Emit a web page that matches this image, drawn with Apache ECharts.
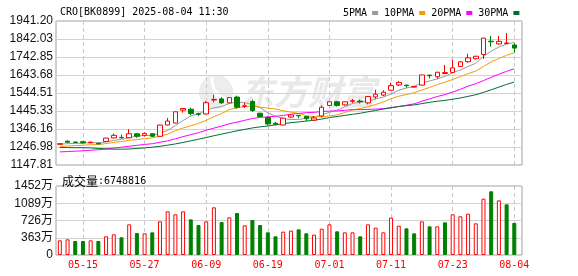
<!DOCTYPE html>
<html><head><meta charset="utf-8">
<script src="https://cdn.jsdelivr.net/npm/echarts@6/dist/echarts.min.js"></script>
<style>html,body{margin:0;padding:0;background:#fff}#c{width:578px;height:276px}</style>
</head><body><div id="c"></div>
<script>
const dates = ['05-12','05-13','05-14','05-15','05-16','05-19','05-20','05-21','05-22','05-23',
  '05-26','05-27','05-28','05-29','05-30','06-03','06-04','06-05','06-06','06-09',
  '06-10','06-11','06-12','06-13','06-16','06-17','06-18','06-19','06-20','06-23',
  '06-24','06-25','06-26','06-27','06-30','07-01','07-02','07-03','07-04','07-07',
  '07-08','07-09','07-10','07-11','07-14','07-15','07-16','07-17','07-18','07-21',
  '07-22','07-23','07-24','07-25','07-28','07-29','07-30','07-31','08-01','08-04'];
const open = [1262,1279,1274,1276,1270,1267,1277,1297,1300,1298, 1320,1311,1320,1306,1368,1379,1450,1455,1430,1429,
  1506,1512,1490,1522,1470,1498,1433,1409,1378,1368, 1412,1421,1415,1395,1418,1476,1496,1479,1499,1500,
  1490,1523,1533,1560,1589,1588,1577,1588,1643,1634, 1652,1658,1691,1717,1733,1757,1830,1815,1817,1809];
const close = [1265,1273,1272,1270,1274,1264,1296,1311,1298,1320, 1306,1322,1306,1368,1390,1441,1459,1431,1427,1491,
  1509,1490,1519,1466,1474,1448,1415,1374,1372,1406, 1424,1419,1403,1407,1466,1496,1476,1496,1502,1497,
  1525,1538,1549,1585,1603,1585,1581,1644,1640,1659, 1657,1683,1716,1738,1747,1847,1827,1829,1820,1792];
const low = [1261,1269,1268,1266,1268,1262,1275,1295,1293,1296, 1298,1305,1303,1304,1366,1377,1436,1422,1418,1427,
  1493,1486,1488,1458,1462,1440,1413,1366,1366,1366, 1406,1405,1390,1392,1411,1475,1470,1474,1490,1487,
  1482,1512,1527,1558,1582,1574,1574,1586,1624,1623, 1650,1656,1689,1711,1728,1732,1800,1812,1815,1767];
const high = [1266,1283,1277,1280,1276,1270,1298,1322,1315,1346, 1322,1328,1322,1369,1407,1443,1461,1464,1436,1500,
  1535,1522,1521,1530,1491,1508,1436,1416,1385,1408, 1425,1422,1416,1418,1476,1497,1501,1497,1512,1508,
  1526,1563,1560,1602,1610,1589,1582,1645,1646,1660, 1699,1728,1721,1760,1749,1848,1859,1859,1875,1818];
const volume = [3090000,3300000,2950000,2950000,3090000,2950000,3930000,4350000,3720000,6450000,
  4630000,4560000,4770000,7080000,9190000,8560000,9190000,7500000,6310000,7080000,
  10030000,6940000,7930000,8840000,6240000,7360000,6310000,4770000,3930000,4910000,
  5120000,5400000,4560000,4280000,5540000,6450000,4980000,4770000,4770000,3930000,
  6450000,5750000,4770000,7860000,6170000,5610000,4560000,7080000,6030000,6030000,
  6870000,8560000,8140000,8700000,6660000,11850000,13400000,11500000,10660000,6748816];
const ma5 = [1263,1265,1267,1268,1271,1271,1275,1283,1289,1298, 1306,1311,1310,1324,1338,1365,1393,1418,1430,1450,
  1463,1470,1487,1495,1492,1479,1464,1435,1417,1403, 1398,1399,1405,1412,1424,1438,1450,1468,1487,1493,
  1499,1512,1522,1539,1560,1572,1581,1600,1611,1622, 1636,1657,1671,1691,1708,1746,1775,1798,1814,1823];
const ma10 = [1250,1252,1255,1257,1259,1261,1266,1272,1277,1284, 1288,1293,1297,1307,1318,1336,1352,1364,1377,1394,
  1414,1431,1453,1462,1471,1471,1467,1461,1456,1447, 1439,1432,1420,1414,1413,1418,1424,1437,1450,1459,
  1469,1481,1495,1513,1527,1536,1546,1561,1575,1591, 1604,1619,1635,1651,1665,1691,1716,1734,1752,1766];
const ma20 = [1220,1222,1224,1226,1229,1232,1236,1241,1246,1251, 1256,1261,1265,1273,1281,1292,1304,1315,1326,1339,
  1351,1362,1375,1384,1394,1404,1410,1413,1416,1421, 1427,1432,1436,1438,1442,1445,1446,1449,1453,1453,
  1454,1456,1458,1464,1470,1477,1485,1499,1512,1525, 1536,1550,1565,1582,1596,1613,1631,1648,1664,1678];
const ma30 = [1244,1244,1243,1243,1242,1239,1236,1235,1235,1236, 1239,1242,1246,1251,1257,1264,1272,1281,1290,1299,
  1309,1318,1327,1336,1344,1352,1358,1363,1369,1375, 1381,1385,1390,1394,1401,1409,1415,1421,1427,1433,
  1441,1448,1456,1463,1470,1475,1479,1486,1493,1499, 1504,1510,1517,1526,1535,1548,1562,1577,1592,1605];
const priceTicks = [1147.81,1246.98,1346.16,1445.33,1544.51,1643.68,1742.85,1842.03,1941.20];
const volumeTicks = [0,3630000,7260000,10890000,14520000];
const dateTicks = ['05-15','05-27','06-09','06-19','07-01','07-11','07-23','08-04'];
const maNames = ['5PMA','10PMA','20PMA','30PMA'];
const titleText = 'CRO[BK0899] 2025-08-04 11:30';
const watermarkText = '东方财富';

const UP = '#ff0000', DOWN = '#008000';
const maColors = ['#9a9a9a','#f0a000','#ff00ff','#006e34'];
const mono = '"DejaVu Sans Mono", monospace';
const sans = '"Liberation Sans", Arial, "Noto Sans CJK SC"';
const N = dates.length;
const idx = dates.map((d, i) => i);
const xTickIdx = dateTicks.map(d => dates.indexOf(d));
const maData = [ma5, ma10, ma20, ma30];

function xAxis(gridIndex, showLabel) {
  return {
    type: 'value', gridIndex, min: -0.5, max: N,
    axisLine: {show: false},
    axisTick: {show: false, customValues: xTickIdx},
    axisLabel: {show: showLabel, customValues: xTickIdx, formatter: v => dates[v] || '',
      color: '#ff0000', fontFamily: mono, fontSize: 10, margin: 5},
    splitLine: {show: true, lineStyle: {color: '#c8c8c8', type: [4, 3], width: 1}}
  };
}

const chart = echarts.init(document.getElementById('c'), null, {renderer: 'canvas'});
chart.setOption({
  animation: false,
  backgroundColor: '#ffffff',
  title: [
    {text: titleText, left: 55, top: 2, textStyle: {fontFamily: mono, fontSize: 10, fontWeight: 'normal', color: '#000'}},
    {text: '{a|成交量}{b|:' + volume[N - 1] + '}', left: 57, top: 170,
      textStyle: {fontWeight: 'normal', rich: {a: {fontFamily: '"Noto Sans CJK SC"', fontSize: 12, fontWeight: 'normal', color: '#000'},
                         b: {fontFamily: mono, fontSize: 10, fontWeight: 'normal', color: '#000'}}}}
  ],
  legend: {
    data: maNames, left: 338, top: 3, icon: 'rect', itemWidth: 6, itemHeight: 4, itemGap: 6, align: 'right',
    textStyle: {fontFamily: mono, fontSize: 10, color: '#000', padding: 0}
  },
  graphic: [
    {type: 'circle', z: -10, silent: true, shape: {cx: 216, cy: 92, r: 17}, style: {fill: '#ededed'}},
    {type: 'arc', z: -9, silent: true, shape: {cx: 232, cy: 80, r: 20, startAngle: 1.9, endAngle: 3.3}, style: {stroke: '#ffffff', lineWidth: 3, fill: null}},
    {type: 'arc', z: -9, silent: true, shape: {cx: 236, cy: 86, r: 22, startAngle: 2.0, endAngle: 3.2}, style: {stroke: '#ffffff', lineWidth: 2, fill: null}},
    {type: 'text', left: 240, top: 75, z: -10, silent: true,
      style: {text: watermarkText, font: 'italic bold 34px "Noto Sans CJK SC"', fill: '#e9e9e9'}}
  ],
  grid: [
    {left: 56, right: 56, top: 21, height: 144, show: true, borderColor: '#a0a0a0', borderWidth: 1, backgroundColor: 'transparent'},
    {left: 56, right: 56, top: 186, height: 69, show: true, borderColor: '#a0a0a0', borderWidth: 1, backgroundColor: 'transparent'}
  ],
  xAxis: [xAxis(0, false), xAxis(1, true)],
  yAxis: [
    {type: 'value', gridIndex: 0, min: priceTicks[0], max: priceTicks[priceTicks.length - 1],
      axisLine: {show: false}, axisTick: {show: false, customValues: priceTicks},
      axisLabel: {customValues: priceTicks, formatter: v => v.toFixed(2), color: '#111', fontFamily: sans, fontSize: 12, margin: 3},
      splitLine: {show: true, lineStyle: {color: '#d2d2d2', width: 1}}},
    {type: 'value', gridIndex: 1, min: volumeTicks[0], max: volumeTicks[volumeTicks.length - 1],
      axisLine: {show: false}, axisTick: {show: false, customValues: volumeTicks},
      axisLabel: {customValues: volumeTicks, formatter: v => v === 0 ? '0' : (v / 10000) + '万', color: '#111', fontFamily: sans, fontSize: 12, margin: 3},
      splitLine: {show: true, lineStyle: {color: '#d2d2d2', width: 1}}}
  ],
  series: [
    {type: 'candlestick', name: 'K', xAxisIndex: 0, yAxisIndex: 0, z: 3, barWidth: 5,
      data: idx.map(i => [i, open[i], close[i], low[i], high[i]]),
      itemStyle: {color: '#ffffff', color0: DOWN, borderColor: UP, borderColor0: DOWN, borderWidth: 1}},
    ...maNames.map((name, k) => ({
      type: 'line', name, xAxisIndex: 0, yAxisIndex: 0, z: 2, symbol: 'none', showSymbol: false, smooth: false,
      data: idx.map(i => [i, maData[k][i]]),
      lineStyle: {color: maColors[k], width: 1}, itemStyle: {color: maColors[k]}
    })),
    {type: 'bar', name: 'VOL', xAxisIndex: 1, yAxisIndex: 1, barWidth: 4,
      data: idx.map(i => {
        const up = i === 0 || close[i] >= close[i - 1];
        return {value: [i, volume[i]], itemStyle: up
          ? {color: '#ffffff', borderColor: UP, borderWidth: 1}
          : {color: DOWN, borderColor: DOWN, borderWidth: 1}};
      })}
  ]
});
</script>
</body></html>
